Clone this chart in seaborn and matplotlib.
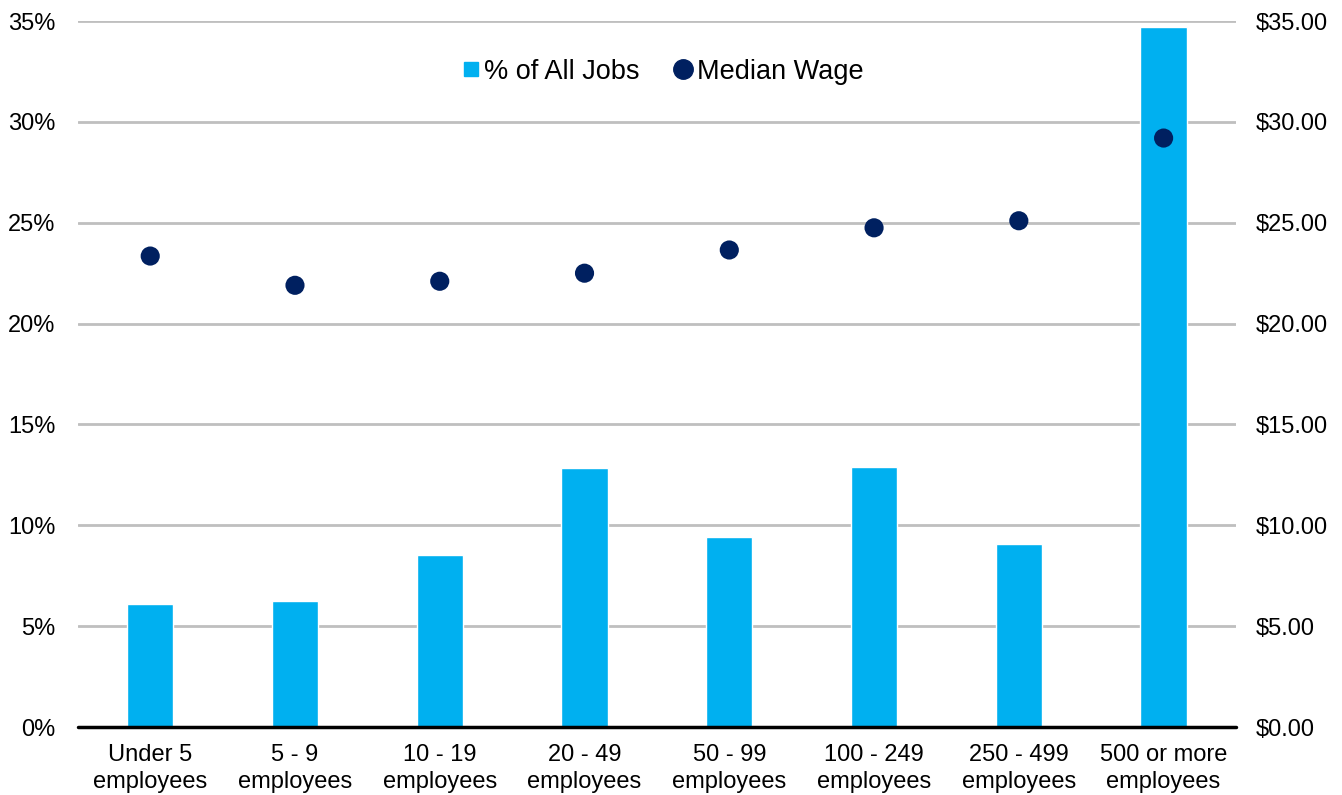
import pandas as pd
import seaborn as sns
import matplotlib.pyplot as plt
from matplotlib.lines import Line2D
from matplotlib.ticker import FuncFormatter

sns.set_style("white")
plt.rcParams['font.family'] = ['Liberation Sans', 'DejaVu Sans']
plt.rcParams['text.color'] = 'black'

# data
sizes = ["Under 5\nemployees", "5 - 9\nemployees", "10 - 19\nemployees", "20 - 49\nemployees",
         "50 - 99\nemployees", "100 - 249\nemployees", "250 - 499\nemployees", "500 or more\nemployees"]
pct_jobs = [6.1, 6.25, 8.55, 12.85, 9.4, 12.9, 9.05, 34.7]
median_wage = [23.35, 21.9, 22.1, 22.5, 23.65, 24.75, 25.1, 29.2]

data = pd.DataFrame({"Size": sizes, "Jobs": pct_jobs, "Wage": median_wage})

bar_color = "#00B0F0"
dot_color = "#002060"

fig = plt.figure(figsize=(13.42, 7.95), dpi=100)
ax = fig.add_axes([0.058, 0.0855, 0.863, 0.888])

sns.barplot(data=data, x="Size", y="Jobs", color=bar_color, width=0.32,
            saturation=1, ax=ax, zorder=2)
ax.set_ylim(0, 35)
ax.set_xlim(-0.5, 7.5)
ax.set_yticks(range(0, 36, 5))
ax.yaxis.set_major_formatter(FuncFormatter(lambda v, p: f"{v:.0f}%"))
ax.grid(axis="y", color="#BFBFBF", linewidth=2, zorder=0)
ax.set_axisbelow(True)

ax2 = ax.twinx()
sns.scatterplot(data=data, x="Size", y="Wage", color=dot_color, s=190,
                edgecolor="none", ax=ax2, zorder=3)
ax2.set_ylim(0, 35)
ax2.set_yticks(range(0, 36, 5))
ax2.yaxis.set_major_formatter(FuncFormatter(lambda v, p: f"${v:.2f}"))

for a in (ax, ax2):
    a.set_xlabel("")
    a.set_ylabel("")
    for s in ["top", "left", "right", "bottom"]:
        a.spines[s].set_visible(False)
    a.tick_params(axis="both", length=0, labelsize=17, colors="black")
ax.tick_params(axis="y", pad=16)
ax2.tick_params(axis="y", pad=14)
ax.tick_params(axis="x", pad=12)
for t in ax.get_xticklabels():
    t.set_linespacing(1.3)
ax.axhline(0, color="black", linewidth=2.5, zorder=4, clip_on=False)

handles = [
    Line2D([], [], marker="s", linestyle="none", color=bar_color, markersize=10),
    Line2D([], [], marker="o", linestyle="none", color=dot_color, markersize=14),
]
ax2.legend(handles, ["% of All Jobs", "Median Wage"], loc="center", bbox_to_anchor=(0.504, 0.928),
           ncol=2, frameon=False, fontsize=19.5, handletextpad=0.1, columnspacing=1.2,
           handlelength=0.8)

plt.savefig("out.png", dpi=100)
